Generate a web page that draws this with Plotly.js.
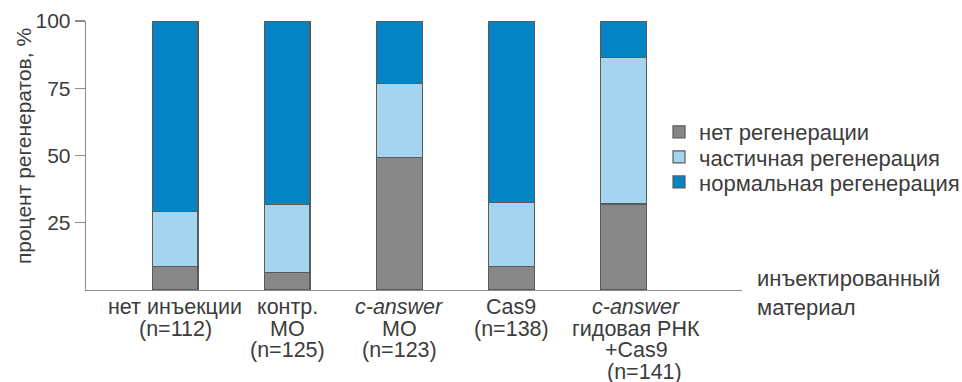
<!DOCTYPE html>
<html>
<head>
<meta charset="utf-8">
<script src="https://cdn.plot.ly/plotly-3.0.1.min.js"></script>
<style>html,body{margin:0;padding:0;background:#fff;}#chart{width:962px;height:382px;}</style>
</head>
<body>
<div id="chart"></div>
<script>
const categories = [0, 1, 2, 3, 4];
const tickLabels = [
  "нет инъекции<br>(n=112)",
  "контр.<br>MO<br>(n=125)",
  "<i>c-answer</i><br>MO<br>(n=123)",
  "Cas9<br>(n=138)",
  "<i>c-answer</i><br>гидовая РНК<br>+Cas9<br>(n=141)"
];
const seriesNames = ["нет регенерации", "частичная регенерация", "нормальная регенерация"];
const noRegen = [8.7, 6.4, 49.2, 8.7, 32.0];
const partialRegen = [20.4, 25.5, 27.6, 23.7, 54.5];
const normalRegen = [70.9, 68.1, 23.2, 67.6, 13.5];
const colors = ["#878787", "#a5d5ee", "#0384c3"];

const font = "Liberation Sans, Arial, sans-serif";
const textColor = "#3c3c3c";
const seriesValues = [noRegen, partialRegen, normalRegen];
const legendIds = ["legend", "legend2", "legend3"];
const legendRowsY = [0.587, 0.494, 0.401];

const traces = seriesValues.map((vals, i) => ({
  type: "bar",
  name: seriesNames[i],
  x: categories,
  y: vals,
  width: 0.41,
  legend: legendIds[i],
  marker: {color: colors[i], line: {color: "#5a5a5a", width: 1.2}},
  hoverinfo: "skip"
}));

// category label annotations (one per text line)
const labelAnnotations = [];
tickLabels.forEach((lab, ci) => {
  const lines = lab.split("<br>");
  lines.forEach((ln, li) => {
    let xs = 0;
    if (ci === 4) xs = (li === lines.length - 1) ? 21 : 13;
    labelAnnotations.push({
      text: ln,
      xref: "x", yref: "paper",
      x: categories[ci], y: 0,
      xanchor: "center", yanchor: "middle",
      xshift: xs, yshift: -(17 + 21.7 * li),
      showarrow: false,
      font: {family: font, size: 21.5, color: textColor}
    });
  });
});

const layout = {
  width: 962, height: 382,
  margin: {l: 86, r: 220, t: 21, b: 92, autoexpand: false},
  paper_bgcolor: "#fff", plot_bgcolor: "#fff",
  barmode: "stack",
  showlegend: true,
  font: {family: font, color: textColor},
  xaxis: {
    range: [-0.795, 5.06],
    tickvals: categories,
    showticklabels: false,
    showline: true, linecolor: "#8c8c8c", linewidth: 1.3,
    ticks: "", showgrid: false, zeroline: false, fixedrange: true
  },
  yaxis: {
    range: [0, 100],
    tickvals: [25, 50, 75, 100],
    ticktext: ["25", "50", "75", "100"],
    tickfont: {family: font, size: 21, color: textColor},
    ticks: "outside", ticklen: 10, tickcolor: "#8c8c8c", tickwidth: 1.3,
    showline: true, linecolor: "#8c8c8c", linewidth: 1.3,
    showgrid: false, zeroline: false, fixedrange: true
  },
  annotations: [
    {
      text: "процент регенератов, %",
      xref: "paper", yref: "paper",
      x: -0.096, y: 0.535, xanchor: "center", yanchor: "middle",
      textangle: -90, showarrow: false,
      font: {family: font, size: 21, color: textColor}
    },
    {
      text: "инъектированный<br>материал",
      xref: "paper", yref: "paper",
      x: 1.02, y: -0.011, xanchor: "left", yanchor: "middle",
      align: "left", showarrow: false,
      font: {family: font, size: 22, color: textColor}
    }
  ].concat(labelAnnotations)
};

legendIds.forEach((id, i) => {
  layout[id] = {
    x: 0.8735, y: legendRowsY[i], xanchor: "left", yanchor: "middle",
    traceorder: "normal",
    font: {family: font, size: 22, color: textColor},
    itemwidth: 30,
    bgcolor: "rgba(0,0,0,0)"
  };
});

Plotly.newPlot("chart", traces, layout, {displayModeBar: false, staticPlot: true});
</script>
</body>
</html>
